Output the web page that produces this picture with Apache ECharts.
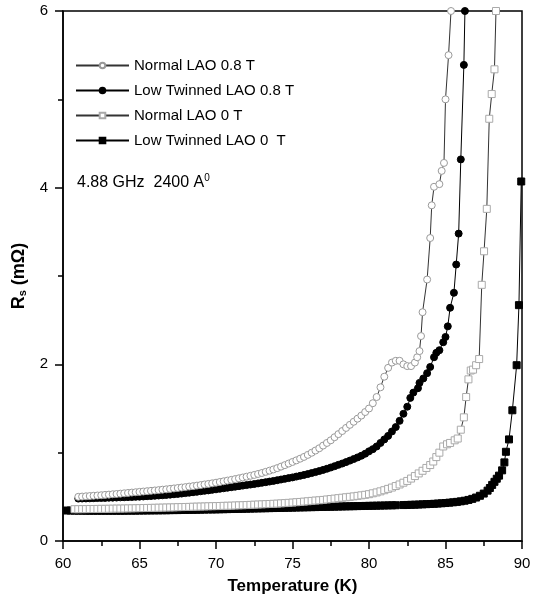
<!DOCTYPE html>
<html>
<head>
<meta charset="utf-8">
<script src="https://cdn.jsdelivr.net/npm/echarts@6/dist/echarts.min.js"></script>
<style>
  html, body { margin: 0; padding: 0; background: #fff; }
  #chart { width: 540px; height: 597px; }
</style>
</head>
<body>
<div id="chart"></div>
<script>
// [temperature K, Rs mOhm]
let normal08 = [
  [61, 0.500], [61.25, 0.503], [61.5, 0.506], [61.75, 0.509], [62, 0.512], [62.25, 0.515], [62.5, 0.518], [62.75, 0.522],
  [63, 0.525], [63.25, 0.529], [63.5, 0.532], [63.75, 0.536], [64, 0.540], [64.25, 0.544], [64.5, 0.548], [64.75, 0.552],
  [65, 0.556], [65.25, 0.560], [65.5, 0.564], [65.75, 0.568], [66, 0.572], [66.25, 0.576], [66.5, 0.581], [66.75, 0.585],
  [67, 0.590], [67.25, 0.595], [67.5, 0.600], [67.75, 0.605], [68, 0.610], [68.25, 0.616], [68.5, 0.621], [68.75, 0.627],
  [69, 0.633], [69.25, 0.640], [69.5, 0.646], [69.75, 0.653], [70, 0.660], [70.25, 0.668], [70.5, 0.676], [70.75, 0.684],
  [71, 0.692], [71.25, 0.701], [71.5, 0.710], [71.75, 0.719], [72, 0.728], [72.25, 0.738], [72.5, 0.748], [72.75, 0.759],
  [73, 0.770], [73.25, 0.783], [73.5, 0.796], [73.75, 0.810], [74, 0.825], [74.25, 0.842], [74.5, 0.859], [74.75, 0.877],
  [75, 0.895], [75.25, 0.913], [75.5, 0.932], [75.75, 0.952], [76, 0.975], [76.25, 0.999], [76.5, 1.024], [76.75, 1.050],
  [77, 1.080], [77.25, 1.110], [77.5, 1.140], [77.75, 1.175], [78, 1.210], [78.25, 1.245], [78.5, 1.280], [78.75, 1.315],
  [79, 1.350], [79.25, 1.385], [79.5, 1.420], [79.75, 1.460], [80, 1.500], [80.25, 1.560], [80.5, 1.630], [80.75, 1.740],
  [81, 1.860], [81.25, 1.960], [81.5, 2.020], [81.75, 2.040], [82, 2.040], [82.25, 2.000], [82.5, 1.980], [82.75, 1.980],
  [83, 2.020], [83.15, 2.080], [83.3, 2.150], [83.4, 2.32], [83.5, 2.59], [83.8, 2.96], [84.0, 3.43], [84.1, 3.80],
  [84.25, 4.01], [84.6, 4.04], [84.75, 4.19], [84.9, 4.28], [85.0, 5.00], [85.2, 5.50], [85.36, 6.00]
];
let lowTwin08 = [
  [61, 0.480], [61.25, 0.481], [61.5, 0.482], [61.75, 0.483], [62, 0.485], [62.25, 0.486], [62.5, 0.487], [62.75, 0.488],
  [63, 0.490], [63.25, 0.491], [63.5, 0.492], [63.75, 0.494], [64, 0.495], [64.25, 0.497], [64.5, 0.498], [64.75, 0.500],
  [65, 0.502], [65.25, 0.504], [65.5, 0.507], [65.75, 0.509], [66, 0.512], [66.25, 0.515], [66.5, 0.518], [66.75, 0.521],
  [67, 0.525], [67.25, 0.529], [67.5, 0.533], [67.75, 0.537], [68, 0.542], [68.25, 0.547], [68.5, 0.552], [68.75, 0.557],
  [69, 0.563], [69.25, 0.568], [69.5, 0.573], [69.75, 0.579], [70, 0.585], [70.25, 0.591], [70.5, 0.597], [70.75, 0.603],
  [71, 0.609], [71.25, 0.615], [71.5, 0.621], [71.75, 0.627], [72, 0.633], [72.25, 0.639], [72.5, 0.645], [72.75, 0.652],
  [73, 0.659], [73.25, 0.666], [73.5, 0.673], [73.75, 0.680], [74, 0.688], [74.25, 0.696], [74.5, 0.704], [74.75, 0.712],
  [75, 0.720], [75.25, 0.729], [75.5, 0.738], [75.75, 0.748], [76, 0.758], [76.25, 0.769], [76.5, 0.780], [76.75, 0.792],
  [77, 0.805], [77.25, 0.818], [77.5, 0.832], [77.75, 0.847], [78, 0.862], [78.25, 0.877], [78.5, 0.893], [78.75, 0.910],
  [79, 0.928], [79.25, 0.946], [79.5, 0.965], [79.75, 0.988], [80, 1.015], [80.25, 1.040], [80.5, 1.070], [80.75, 1.110],
  [81, 1.150], [81.25, 1.190], [81.5, 1.240], [81.75, 1.290], [82, 1.360], [82.25, 1.440], [82.5, 1.520], [82.7, 1.620],
  [82.9, 1.680], [83.2, 1.730], [83.3, 1.790], [83.55, 1.840], [83.8, 1.900], [84.0, 1.970], [84.25, 2.080], [84.4, 2.130],
  [84.6, 2.160], [84.85, 2.250], [85.0, 2.310], [85.15, 2.430], [85.3, 2.640], [85.55, 2.810], [85.7, 3.130], [85.86, 3.480],
  [86.0, 4.320], [86.2, 5.390], [86.27, 6.000]
];
let normal0 = [
  [60.75, 0.360], [61, 0.360], [61.25, 0.361], [61.5, 0.361], [61.75, 0.362], [62, 0.362], [62.25, 0.363], [62.5, 0.364],
  [62.75, 0.364], [63, 0.365], [63.25, 0.366], [63.5, 0.367], [63.75, 0.367], [64, 0.368], [64.25, 0.369], [64.5, 0.370],
  [64.75, 0.371], [65, 0.372], [65.25, 0.373], [65.5, 0.374], [65.75, 0.375], [66, 0.376], [66.25, 0.377], [66.5, 0.378],
  [66.75, 0.379], [67, 0.380], [67.25, 0.381], [67.5, 0.383], [67.75, 0.384], [68, 0.385], [68.25, 0.386], [68.5, 0.388],
  [68.75, 0.389], [69, 0.390], [69.25, 0.391], [69.5, 0.393], [69.75, 0.394], [70, 0.395], [70.25, 0.396], [70.5, 0.398],
  [70.75, 0.399], [71, 0.400], [71.25, 0.402], [71.5, 0.404], [71.75, 0.405], [72, 0.407], [72.25, 0.409], [72.5, 0.411],
  [72.75, 0.413], [73, 0.415], [73.25, 0.417], [73.5, 0.419], [73.75, 0.421], [74, 0.423], [74.25, 0.426], [74.5, 0.429],
  [74.75, 0.432], [75, 0.435], [75.25, 0.439], [75.5, 0.442], [75.75, 0.446], [76, 0.450], [76.25, 0.454], [76.5, 0.458],
  [76.75, 0.461], [77, 0.465], [77.25, 0.470], [77.5, 0.475], [77.75, 0.480], [78, 0.485], [78.25, 0.490], [78.5, 0.495],
  [78.75, 0.500], [79, 0.505], [79.25, 0.511], [79.5, 0.517], [79.75, 0.523], [80, 0.530], [80.25, 0.540], [80.5, 0.550],
  [80.75, 0.562], [81, 0.575], [81.25, 0.590], [81.5, 0.605], [81.75, 0.622], [82, 0.640], [82.25, 0.660], [82.5, 0.680],
  [82.75, 0.707], [83, 0.735], [83.25, 0.765], [83.5, 0.795], [83.75, 0.827], [84, 0.860], [84.2, 0.900], [84.4, 0.950],
  [84.6, 1.000], [84.85, 1.070], [85.1, 1.095], [85.3, 1.110], [85.6, 1.140], [85.8, 1.160], [86.0, 1.260], [86.2, 1.400],
  [86.35, 1.630], [86.5, 1.830], [86.65, 1.930], [86.8, 1.940], [87.0, 1.990], [87.2, 2.060], [87.37, 2.900], [87.52, 3.280],
  [87.7, 3.760], [87.86, 4.780], [88.02, 5.060], [88.2, 5.340], [88.3, 6.000]
];
let lowTwin0 = [
  [60.25, 0.345], [60.5, 0.345], [60.75, 0.344], [61, 0.344], [61.25, 0.344], [61.5, 0.343], [61.75, 0.343], [62, 0.343],
  [62.25, 0.343], [62.5, 0.343], [62.75, 0.343], [63, 0.343], [63.25, 0.343], [63.5, 0.343], [63.75, 0.343], [64, 0.343],
  [64.25, 0.344], [64.5, 0.344], [64.75, 0.344], [65, 0.345], [65.25, 0.345], [65.5, 0.346], [65.75, 0.346], [66, 0.347],
  [66.25, 0.347], [66.5, 0.348], [66.75, 0.348], [67, 0.349], [67.25, 0.350], [67.5, 0.350], [67.75, 0.351], [68, 0.352],
  [68.25, 0.353], [68.5, 0.353], [68.75, 0.354], [69, 0.355], [69.25, 0.356], [69.5, 0.357], [69.75, 0.357], [70, 0.358],
  [70.25, 0.359], [70.5, 0.360], [70.75, 0.361], [71, 0.362], [71.25, 0.363], [71.5, 0.364], [71.75, 0.365], [72, 0.366],
  [72.25, 0.367], [72.5, 0.368], [72.75, 0.369], [73, 0.370], [73.25, 0.371], [73.5, 0.372], [73.75, 0.373], [74, 0.374],
  [74.25, 0.375], [74.5, 0.376], [74.75, 0.377], [75, 0.378], [75.25, 0.379], [75.5, 0.380], [75.75, 0.381], [76, 0.382],
  [76.25, 0.383], [76.5, 0.384], [76.75, 0.385], [77, 0.386], [77.25, 0.387], [77.5, 0.388], [77.75, 0.389], [78, 0.390],
  [78.25, 0.391], [78.5, 0.392], [78.75, 0.393], [79, 0.394], [79.25, 0.395], [79.5, 0.396], [79.75, 0.397], [80, 0.398],
  [80.25, 0.399], [80.5, 0.400], [80.75, 0.401], [81, 0.402], [81.25, 0.403], [81.5, 0.404], [81.75, 0.405], [82.25, 0.407],
  [82.5, 0.408], [82.75, 0.410], [83, 0.411], [83.25, 0.413], [83.5, 0.415], [83.75, 0.417], [84, 0.419], [84.25, 0.421],
  [84.5, 0.424], [84.75, 0.427], [85, 0.430], [85.25, 0.434], [85.5, 0.438], [85.75, 0.443], [86, 0.449], [86.25, 0.456],
  [86.5, 0.465], [86.75, 0.477], [87, 0.492], [87.25, 0.512], [87.5, 0.537], [87.75, 0.570], [87.9, 0.600], [88.05, 0.635],
  [88.2, 0.670], [88.35, 0.705], [88.5, 0.740], [88.7, 0.800], [88.85, 0.890], [88.95, 1.010], [89.15, 1.150], [89.37, 1.480],
  [89.65, 1.990], [89.8, 2.670], [89.95, 4.070]
];
let seriesNames = ["Normal LAO 0.8 T", "Low Twinned LAO 0.8 T", "Normal LAO 0 T", "Low Twinned LAO 0  T"];

let chart = echarts.init(document.getElementById("chart"), null, { renderer: "canvas" });
let font = "'Liberation Sans', Arial, sans-serif";

function makeSeries(name, data, symbol, fill, border, lineColor) {
  return {
    name: name,
    type: "line",
    data: data,
    symbol: symbol,
    symbolSize: 7,
    showSymbol: true,
    clip: true,
    animation: false,
    lineStyle: { color: lineColor, width: 1 },
    itemStyle: { color: fill, borderColor: border, borderWidth: 1 },
    emphasis: { disabled: true }
  };
}

let option = {
  animation: false,
  grid: {
    left: 63, right: 18, top: 11, bottom: 56,
    containLabel: false,
    outerBoundsMode: "none",
    show: true, borderColor: "#000", borderWidth: 1.5
  },
  legend: {
    orient: "vertical",
    left: 75,
    top: 57,
    padding: 0,
    itemWidth: 53,
    itemHeight: 7,
    itemGap: 8,
    textStyle: { fontFamily: font, fontSize: 15, color: "#000", lineHeight: 17 },
    data: seriesNames
  },
  xAxis: {
    type: "value",
    min: 60, max: 90, interval: 5,
    name: "Temperature (K)",
    nameLocation: "middle",
    nameGap: 37,
    nameTextStyle: { fontFamily: font, fontSize: 17, fontWeight: "bold", color: "#000" },
    axisLine: { lineStyle: { color: "#000", width: 1.5 } },
    axisTick: { inside: false, length: 8, lineStyle: { color: "#000", width: 1.5 } },
    minorTick: { show: true, splitNumber: 2, length: 5, lineStyle: { color: "#000", width: 1.5 } },
    axisLabel: { fontFamily: font, fontSize: 15, color: "#000", margin: 15 },
    splitLine: { show: false }
  },
  yAxis: {
    type: "value",
    min: 0, max: 6, interval: 2,
    name: "{b|R}{s|s}{b| (m\u03A9)}",
    nameLocation: "middle",
    nameGap: 28,
    nameRotate: 90,
    nameTextStyle: {
      rich: {
        b: { fontFamily: font, fontSize: 18, fontWeight: "bold", color: "#000" },
        s: { fontFamily: font, fontSize: 11, fontWeight: "bold", color: "#000", verticalAlign: "bottom", padding: [8, 0, 0, 0] }
      }
    },
    axisLine: { lineStyle: { color: "#000", width: 1.5 } },
    axisTick: { inside: false, length: 8, lineStyle: { color: "#000", width: 1.5 } },
    minorTick: { show: true, splitNumber: 2, length: 5, lineStyle: { color: "#000", width: 1.5 } },
    axisLabel: { fontFamily: font, fontSize: 15, color: "#000", margin: 15 },
    splitLine: { show: false }
  },
  graphic: [
    {
      type: "text",
      left: 77,
      top: 173,
      style: {
        text: "{a|4.88 GHz  2400 A}{p|0}",
        rich: {
          a: { fontFamily: font, fontSize: 16, fill: "#000" },
          p: { fontFamily: font, fontSize: 10, fill: "#000", verticalAlign: "top", padding: [0, 0, 10, 0] }
        }
      }
    }
  ],
  series: [
    makeSeries(seriesNames[3], lowTwin0, "rect", "#000", "#000", "#000"),
    makeSeries(seriesNames[2], normal0, "rect", "#fff", "#aaa", "#333"),
    makeSeries(seriesNames[1], lowTwin08, "circle", "#000", "#000", "#000"),
    makeSeries(seriesNames[0], normal08, "circle", "#fff", "#999", "#333")
  ]
};

chart.setOption(option);
window.addEventListener("resize", chart.resize);
</script>
</body>
</html>
